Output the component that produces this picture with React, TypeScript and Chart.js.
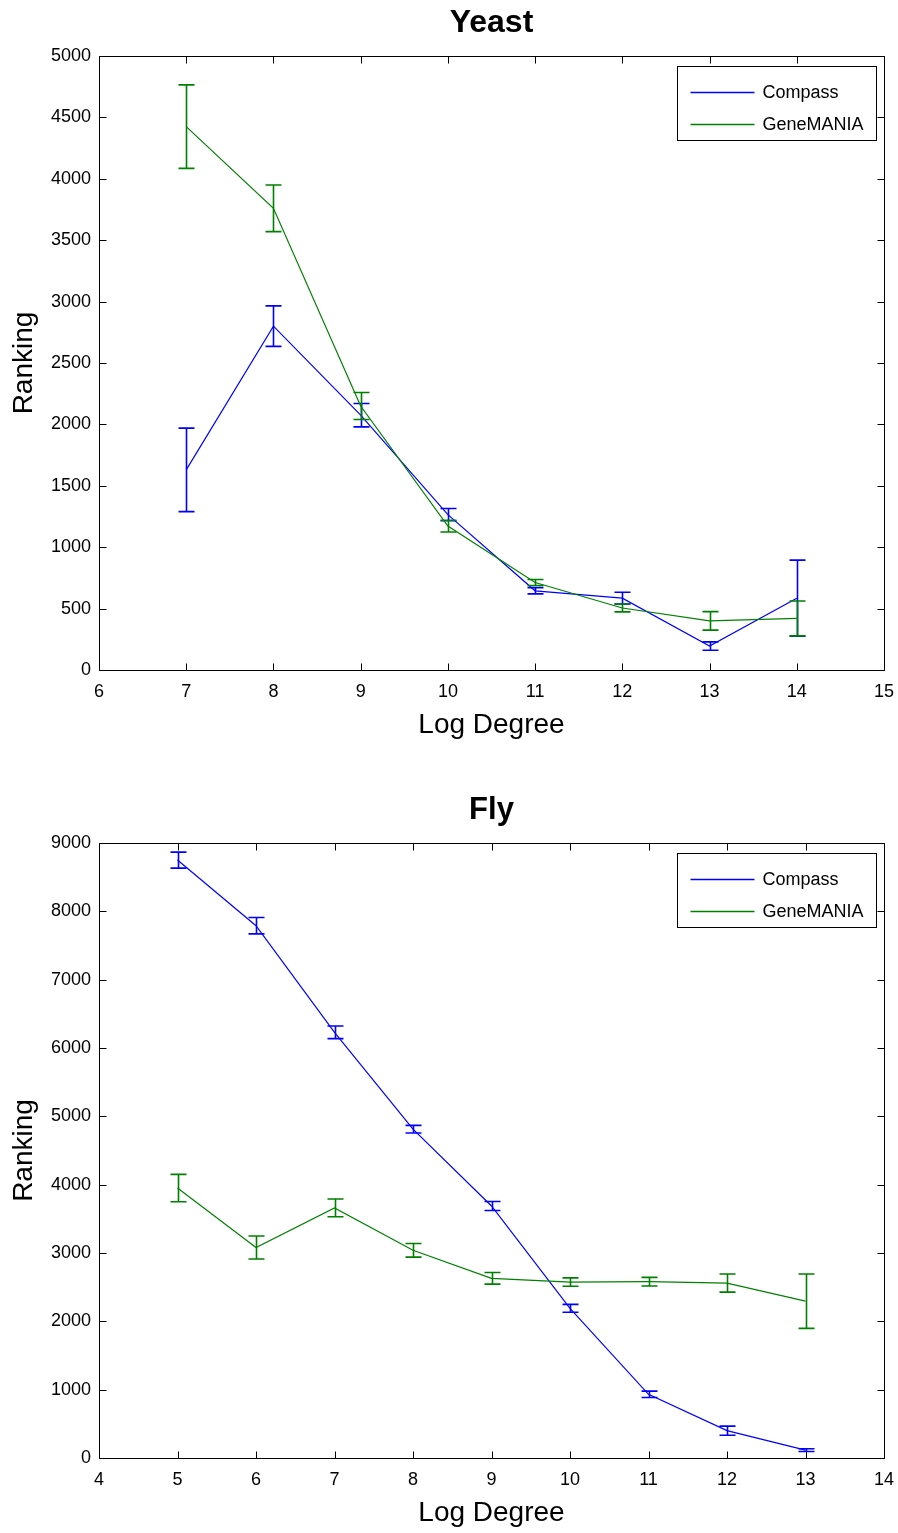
import React, { useEffect, useRef } from "react";
import { Chart, registerables } from "chart.js";

Chart.register(...registerables);

// ---------- Data ----------
const seriesNames = ["Compass", "GeneMANIA"];
const seriesColors = ["#0000ff", "#008000"];

const yeastTitle = "Yeast";
const yeastDegree = [7, 8, 9, 10, 11, 12, 13, 14];
const yeastCompass = [1630, 2800, 2075, 1265, 645, 585, 195, 585];
const yeastCompassErr = [340, 165, 95, 50, 25, 48, 34, 310];
const yeastGeneMania = [4425, 3760, 2150, 1172, 712, 505, 400, 420];
const yeastGeneManiaErr = [340, 190, 110, 48, 25, 32, 75, 142];
const yeastXRange = [6, 15];
const yeastYRange = [0, 5000];
const yeastYStep = 500;

const flyTitle = "Fly";
const flyDegree = [5, 6, 7, 8, 9, 10, 11, 12, 13];
const flyCompass = [8750, 7790, 6230, 4812, 3688, 2190, 932, 400, 115];
const flyCompassErr = [117, 120, 93, 55, 65, 58, 46, 66, 20];
const flyGeneMania = [3950, 3080, 3660, 3040, 2630, 2575, 2580, 2560, 2295];
const flyGeneManiaErr = [200, 168, 130, 100, 85, 61, 63, 132, 398];
const flyXRange = [4, 14];
const flyYRange = [0, 9000];
const flyYStep = 1000;

const xAxisTitle = "Log Degree";
const yAxisTitle = "Ranking";

const FONT = "'Liberation Sans', Arial, Helvetica, sans-serif";

const matlabPlugin = {
  id: "matlabLook",
  afterDatasetDraw(chart: any, args: any) {
    const ds = chart.data.datasets[args.index];
    const err: number[] = ds.errors || [];
    const xs = chart.scales.x;
    const ys = chart.scales.y;
    const ctx = chart.ctx;
    ctx.save();
    ctx.strokeStyle = ds.borderColor;
    ctx.lineWidth = 1.6;
    const half = 8;
    ds.data.forEach((p: any, i: number) => {
      const e = err[i] || 0;
      const px = Math.round(xs.getPixelForValue(p.x)) + 0.5;
      const top = ys.getPixelForValue(p.y + e);
      const bot = ys.getPixelForValue(p.y - e);
      ctx.beginPath();
      ctx.moveTo(px, top);
      ctx.lineTo(px, bot);
      ctx.moveTo(px - half, top);
      ctx.lineTo(px + half, top);
      ctx.moveTo(px - half, bot);
      ctx.lineTo(px + half, bot);
      ctx.stroke();
    });
    ctx.restore();
  },
  afterDraw(chart: any) {
    const ctx = chart.ctx;
    const a = chart.chartArea;
    const xs = chart.scales.x;
    const ys = chart.scales.y;
    const L = Math.round(a.left) + 0.5;
    const R = Math.round(a.right) + 0.5;
    const T = Math.round(a.top) + 0.5;
    const B = Math.round(a.bottom) + 0.5;
    ctx.save();
    ctx.strokeStyle = "#000";
    ctx.lineWidth = 1;
    ctx.beginPath();
    ctx.rect(L, T, R - L, B - T);
    const tl = 7;
    xs.ticks.forEach((t: any) => {
      const px = Math.round(xs.getPixelForValue(t.value)) + 0.5;
      ctx.moveTo(px, B);
      ctx.lineTo(px, B - tl);
      ctx.moveTo(px, T);
      ctx.lineTo(px, T + tl);
    });
    ys.ticks.forEach((t: any) => {
      const py = Math.round(ys.getPixelForValue(t.value)) + 0.5;
      ctx.moveTo(L, py);
      ctx.lineTo(L + tl, py);
      ctx.moveTo(R, py);
      ctx.lineTo(R - tl, py);
    });
    ctx.stroke();

    // legend box
    const bw = 199;
    const bh = 74;
    const bx = Math.round(a.right) - 8 - bw + 0.5;
    const by = Math.round(a.top) + 10 + 0.5;
    ctx.fillStyle = "#fff";
    ctx.fillRect(bx, by, bw, bh);
    ctx.strokeStyle = "#000";
    ctx.strokeRect(bx, by, bw, bh);
    const order = [0, 1];
    order.forEach((k, i) => {
      const ds = chart.data.datasets.find((d: any) => d.label === seriesNames[k]);
      const ly = Math.round(by + 25 + i * 32) + 0.5;
      ctx.strokeStyle = ds.borderColor;
      ctx.lineWidth = 1.3;
      ctx.beginPath();
      ctx.moveTo(bx + 13, ly);
      ctx.lineTo(bx + 77, ly);
      ctx.stroke();
      ctx.fillStyle = "#000";
      ctx.font = `18px ${FONT}`;
      ctx.textBaseline = "middle";
      ctx.textAlign = "left";
      ctx.fillText(ds.label, bx + 85, ly + 1);
    });
    ctx.restore();
  },
};

function makeConfig(
  title: string,
  titleSize: number,
  degree: number[],
  compass: number[],
  compassErr: number[],
  gm: number[],
  gmErr: number[],
  xRange: number[],
  yRange: number[],
  yStep: number
): any {
  const toPts = (vals: number[]) => degree.map((d, i) => ({ x: d, y: vals[i] }));
  const titleLH = titleSize * 1.2;
  const titleTop = 23 - titleLH / 2;
  const titleBottom = 56 - titleTop - titleLH;
  return {
    type: "line",
    data: {
      datasets: [
        {
          label: seriesNames[0],
          data: toPts(compass),
          errors: compassErr,
          borderColor: seriesColors[0],
          backgroundColor: seriesColors[0],
          borderWidth: 1.2,
          pointRadius: 0,
          tension: 0,
          order: 2,
        },
        {
          label: seriesNames[1],
          data: toPts(gm),
          errors: gmErr,
          borderColor: seriesColors[1],
          backgroundColor: seriesColors[1],
          borderWidth: 1.2,
          pointRadius: 0,
          tension: 0,
          order: 1,
        },
      ],
    },
    options: {
      responsive: false,
      animation: false,
      devicePixelRatio: 1,
      layout: { padding: { left: 0, right: 14, top: 0, bottom: 0 } },
      plugins: {
        legend: { display: false },
        tooltip: { enabled: false },
        title: {
          display: true,
          fullSize: false,
          text: title,
          color: "#000",
          font: { family: FONT, size: titleSize, weight: "bold", lineHeight: 1.2 },
          padding: { top: titleTop, bottom: titleBottom },
        },
      },
      scales: {
        x: {
          type: "linear",
          min: xRange[0],
          max: xRange[1],
          grid: { display: false, drawTicks: false },
          border: { display: false },
          ticks: {
            stepSize: 1,
            color: "#000",
            padding: 11,
            maxRotation: 0,
            font: { family: FONT, size: 18 },
            callback: (v: any) => String(v),
          },
          title: {
            display: true,
            text: xAxisTitle,
            color: "#000",
            font: { family: FONT, size: 28, lineHeight: 1.2 },
            padding: { top: 0, bottom: 2.7 },
          },
          afterFit: (s: any) => {
            s.height = 75;
            s.paddingLeft = 0;
            s.paddingRight = 0;
          },
        },
        y: {
          type: "linear",
          min: yRange[0],
          max: yRange[1],
          grid: { display: false, drawTicks: false },
          border: { display: false },
          ticks: {
            stepSize: yStep,
            color: "#000",
            padding: 8,
            font: { family: FONT, size: 18 },
            callback: (v: any) => String(v),
          },
          title: {
            display: true,
            text: yAxisTitle,
            color: "#000",
            font: { family: FONT, size: 28, lineHeight: 1.2 },
            padding: { top: 7, bottom: 0 },
          },
          afterFit: (s: any) => {
            s.width = 99;
          },
        },
      },
    },
    plugins: [matlabPlugin],
  };
}

function ChartCanvas(props: { config: () => any; top: number; height: number }) {
  const ref = useRef<HTMLCanvasElement | null>(null);
  useEffect(() => {
    if (!ref.current) return;
    const chart = new Chart(ref.current, props.config());
    return () => chart.destroy();
  }, []);
  return (
    <canvas
      ref={ref}
      width={898}
      height={props.height}
      style={{ position: "absolute", left: 0, top: props.top, width: 898, height: props.height, display: "block" }}
    />
  );
}

export default function App() {
  return (
    <div
      style={{
        position: "absolute",
        left: 0,
        top: 0,
        width: 898,
        height: 1533,
        background: "#fff",
        overflow: "hidden",
      }}
    >
      <ChartCanvas
        top={0}
        height={745}
        config={() =>
          makeConfig(
            yeastTitle,
            32,
            yeastDegree,
            yeastCompass,
            yeastCompassErr,
            yeastGeneMania,
            yeastGeneManiaErr,
            yeastXRange,
            yeastYRange,
            yeastYStep
          )
        }
      />
      <ChartCanvas
        top={787}
        height={746}
        config={() =>
          makeConfig(
            flyTitle,
            31,
            flyDegree,
            flyCompass,
            flyCompassErr,
            flyGeneMania,
            flyGeneManiaErr,
            flyXRange,
            flyYRange,
            flyYStep
          )
        }
      />
    </div>
  );
}
